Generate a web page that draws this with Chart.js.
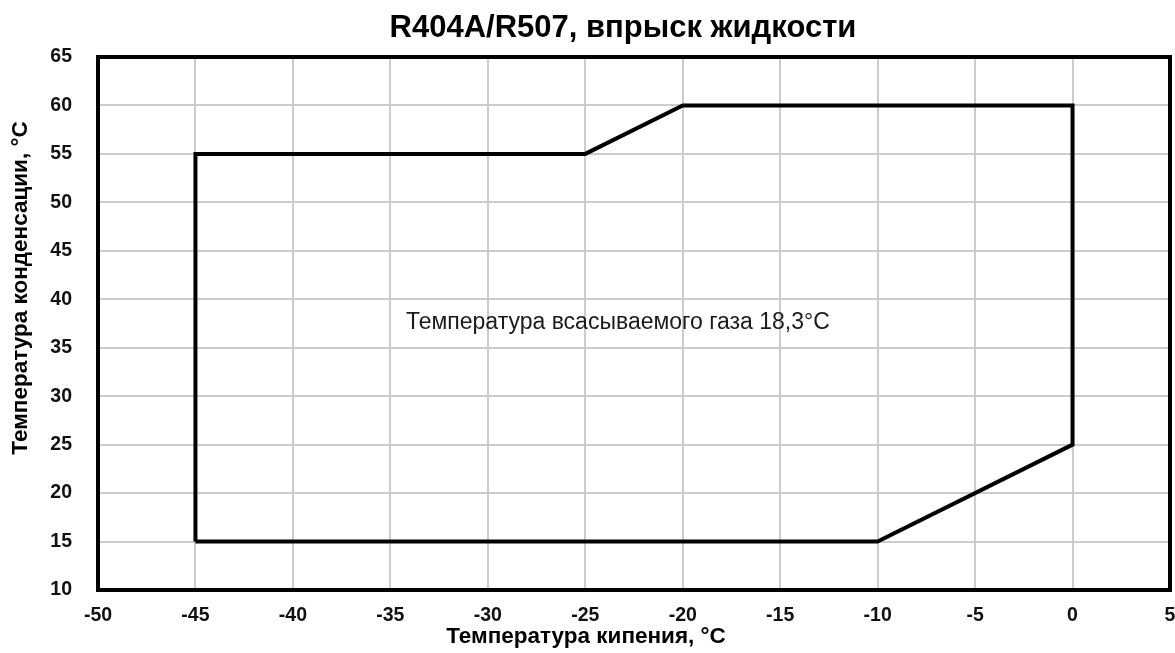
<!DOCTYPE html>
<html>
<head>
<meta charset="utf-8">
<script src="https://cdn.jsdelivr.net/npm/chart.js@4/dist/chart.umd.min.js"></script>
<style>
  html, body { margin: 0; padding: 0; background: #ffffff; }
  #wrap { width: 1175px; height: 653px; position: relative; }
</style>
</head>
<body>
<div id="wrap"><canvas id="c"></canvas></div>
<script>
// ---- data ----
const chartTitle = "R404A/R507, впрыск жидкости";
const xAxisTitle = "Температура кипения, °C";
const yAxisTitle = "Температура конденсации, °C";
const noteText = "Температура всасываемого газа 18,3°C";

const xTicks = [-50, -45, -40, -35, -30, -25, -20, -15, -10, -5, 0, 5];
const yTicks = [10, 15, 20, 25, 30, 35, 40, 45, 50, 55, 60, 65];

// operating envelope (evaporating temp, condensing temp), closed polygon
const envelopeX = [-45, -45, -25, -20, 0, 0, -10, -45];
const envelopeY = [15, 55, 55, 60, 60, 25, 15, 15];

// annotation anchor (left edge, vertical middle) in data units
const noteX = -34.2;
const noteY = 37.6;

const FONT = '"Liberation Sans", Arial, Helvetica, sans-serif';

const points = envelopeX.map((x, i) => ({ x: x, y: envelopeY[i] }));

const decorPlugin = {
  id: 'decor',
  afterDatasetsDraw(chart) {
    const ctx = chart.ctx;
    const a = chart.chartArea;
    const xs = chart.scales.x, ys = chart.scales.y;
    ctx.save();
    // plot frame
    ctx.strokeStyle = '#000';
    ctx.lineWidth = 4;
    ctx.strokeRect(a.left, a.top, a.right - a.left, a.bottom - a.top);
    // annotation
    ctx.fillStyle = '#1a1a1a';
    ctx.font = '23px ' + FONT;
    ctx.textAlign = 'left';
    ctx.textBaseline = 'middle';
    ctx.fillText(noteText, xs.getPixelForValue(noteX), ys.getPixelForValue(noteY));
    // chart title
    ctx.fillStyle = '#000';
    ctx.font = 'bold 31px ' + FONT;
    ctx.textAlign = 'center';
    ctx.textBaseline = 'middle';
    ctx.fillText(chartTitle, 623, 28);
    // x axis title
    ctx.font = 'bold 22.5px ' + FONT;
    ctx.fillText(xAxisTitle, 586, 637);
    // y axis title
    ctx.translate(21, 288);
    ctx.rotate(-Math.PI / 2);
    ctx.fillText(yAxisTitle, 0, 0);
    ctx.restore();
  }
};

new Chart(document.getElementById('c'), {
  type: 'scatter',
  data: {
    datasets: [{
      data: points,
      showLine: true,
      borderColor: '#000',
      backgroundColor: '#000',
      borderWidth: 4,
      borderJoinStyle: 'miter',
      pointRadius: 0,
      pointHoverRadius: 0,
      tension: 0,
      fill: false
    }]
  },
  options: {
    responsive: true,
    maintainAspectRatio: false,
    devicePixelRatio: 1,
    animation: false,
    events: [],
    layout: { padding: { left: 0, top: 57, right: 5, bottom: 0 } },
    plugins: {
      legend: { display: false },
      title: { display: false },
      tooltip: { enabled: false }
    },
    scales: {
      x: {
        type: 'linear',
        min: xTicks[0],
        max: xTicks[xTicks.length - 1],
        afterBuildTicks(scale) { scale.ticks = xTicks.map(v => ({ value: v })); },
        afterFit(scale) { scale.height = 63; scale.paddingLeft = 0; scale.paddingRight = 0; },
        grid: { color: '#cccccc', lineWidth: 2, drawTicks: false },
        border: { display: false },
        ticks: {
          padding: 14,
          color: '#111',
          font: { family: FONT, size: 19.5, weight: 'bold' },
          maxRotation: 0
        },
        title: { display: false }
      },
      y: {
        type: 'linear',
        min: yTicks[0],
        max: yTicks[yTicks.length - 1],
        afterBuildTicks(scale) { scale.ticks = yTicks.map(v => ({ value: v })); },
        afterFit(scale) { scale.width = 98; scale.paddingTop = 0; scale.paddingBottom = 0; },
        grid: { color: '#cccccc', lineWidth: 2, drawTicks: false },
        border: { display: false },
        ticks: {
          padding: 26,
          color: '#111',
          font: { family: FONT, size: 19.5, weight: 'bold' }
        },
        title: { display: false }
      }
    }
  },
  plugins: [decorPlugin]
});
</script>
</body>
</html>
